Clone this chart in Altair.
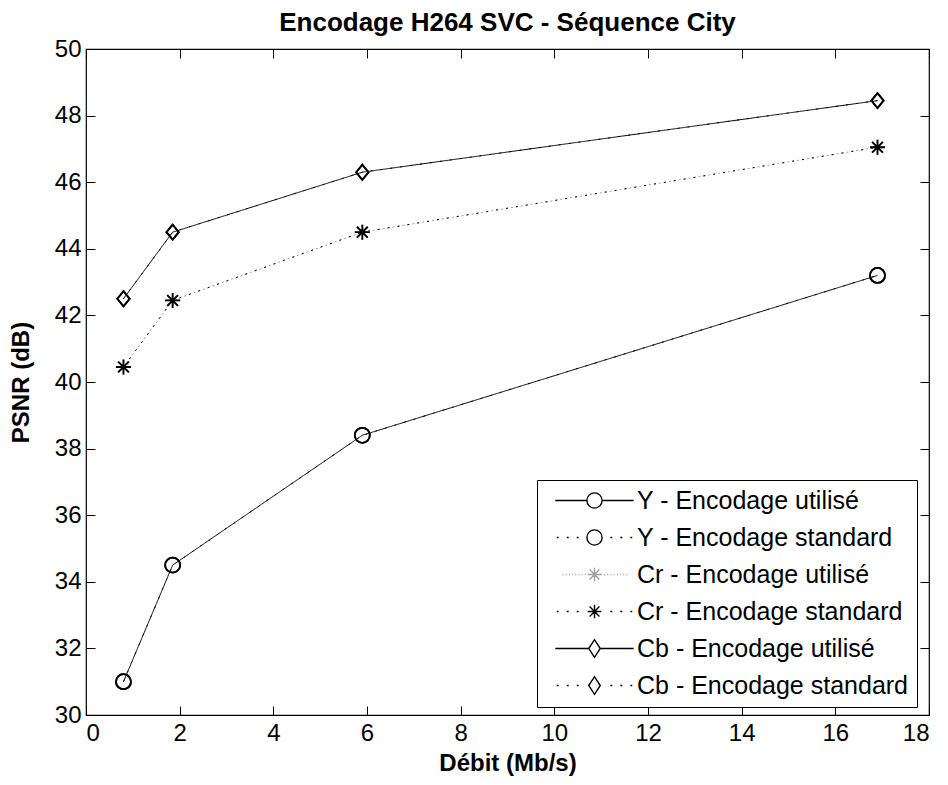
import altair as alt
import pandas as pd

# ---------------- data ----------------
debit = [0.8, 1.85, 5.9, 16.9]
psnr_y_utilise = [31.0, 34.5, 38.4, 43.2]
psnr_y_standard = [31.0, 34.5, 38.4, 43.2]
psnr_cr_utilise = [40.45, 42.45, 44.5, 47.05]
psnr_cr_standard = [40.45, 42.45, 44.5, 47.05]
psnr_cb_utilise = [42.5, 44.5, 46.3, 48.45]
psnr_cb_standard = [42.5, 44.5, 46.3, 48.45]

series_names = [
    "Y - Encodage utilisé",
    "Y - Encodage standard",
    "Cr - Encodage utilisé",
    "Cr - Encodage standard",
    "Cb - Encodage utilisé",
    "Cb - Encodage standard",
]
x_ticks = [0, 2, 4, 6, 8, 10, 12, 14, 16, 18]
y_ticks = [30, 32, 34, 36, 38, 40, 42, 44, 46, 48, 50]

all_values = [psnr_y_utilise, psnr_y_standard, psnr_cr_utilise,
              psnr_cr_standard, psnr_cb_utilise, psnr_cb_standard]
rows = []
for name, vals in zip(series_names, all_values):
    for d, v in zip(debit, vals):
        rows.append({"serie": name, "debit": d, "psnr": v})
df = pd.DataFrame(rows)

# ---------------- styles ----------------
W, H = 843, 666
FONT = "Liberation Sans"
colors = ["black", "black", "#a0a0a0", "black", "black", "black"]
dashes = [[1, 0], [2, 8], [2, 3], [2, 8], [1, 0], [2, 8]]

ASTER = "M-1,0L1,0M0,-1L0,1M-0.72,-0.72L0.72,0.72M-0.72,0.72L0.72,-0.72"
DIAM = "M-0.82,0L0,-1L0.82,0L0,1Z"
plot_shapes = ["circle", "circle", ASTER, ASTER, DIAM, DIAM]
plot_sizes = [225, 225, 196, 196, 484, 484]

# composite legend glyphs (line sample + marker), unit = 8 px
L = 4.9


def solid(gap):
    return f"M{-L},0L{-gap},0M{gap},0L{L},0"


def dotted(gap):
    out = ""
    p = -L + 0.3
    while p < -gap - 0.2:
        out += f"M{p - 0.12:.2f},0L{p + 0.12:.2f},0M{-p - 0.12:.2f},0L{-p + 0.12:.2f},0"
        p += 1.25
    return out


def fine():
    out = ""
    p = -L + 0.9
    while p < L - 0.9:
        out += f"M{p:.2f},0L{p + 0.12:.2f},0"
        p += 0.4
    return out


def circ(r):
    return f"M{r},0A{r},{r} 0 1,1 {-r},0A{r},{r} 0 1,1 {r},0Z"


def aster(s):
    a = 0.72 * s
    return (f"M{-s},0L{s},0M0,{-s}L0,{s}M{-a},{-a}L{a},{a}M{-a},{a}L{a},{-a}")


LDIAM = "M-0.72,0L0,-1.1L0.72,0L0,1.1Z"
legend_shapes = [
    solid(0.95) + circ(0.95),
    dotted(0.95) + circ(0.95),
    fine() + aster(0.85),
    dotted(0.9) + aster(0.85),
    solid(0.72) + LDIAM,
    dotted(0.72) + LDIAM,
]

legend_def = dict(
    title=None,
    orient="none",
    legendX=451,
    legendY=431,
    padding=8,
    strokeColor="black",
    fillColor="white",
    symbolSize=256,
    symbolStrokeWidth=1.4,
    symbolOpacity=1,
    symbolOffset=37,
    labelOffset=30,
    rowPadding=11,
    labelFont=FONT,
    labelFontSize=25,
    labelColor="black",
    labelLimit=500,
)

x_scale = alt.Scale(domain=[0, 18], nice=False)
y_scale = alt.Scale(domain=[30, 50], nice=False)

base = alt.Chart(df)

lines = base.mark_line(strokeWidth=1).encode(
    x=alt.X("debit:Q", scale=x_scale,
            axis=alt.Axis(orient="bottom", values=x_ticks, title="Débit (Mb/s)",
                          ticks=False, domain=False, grid=False,
                          labelFont=FONT, labelFontSize=24, labelColor="black",
                          labelPadding=6, titleFont=FONT, titleFontSize=24,
                          titleFontWeight="bold", titleColor="black", titlePadding=6)),
    y=alt.Y("psnr:Q", scale=y_scale,
            axis=alt.Axis(orient="left", values=y_ticks, title="PSNR (dB)",
                          ticks=False, domain=False, grid=False,
                          labelFont=FONT, labelFontSize=24, labelColor="black",
                          labelPadding=5, titleFont=FONT, titleFontSize=24,
                          titleFontWeight="bold", titleColor="black", titlePadding=21)),
    color=alt.Color("serie:N", scale=alt.Scale(domain=series_names, range=colors), legend=None),
    strokeDash=alt.StrokeDash("serie:N", scale=alt.Scale(domain=series_names, range=dashes), legend=None),
    order=alt.Order("debit:Q"),
)

points = base.mark_point(filled=False, strokeWidth=1.8, opacity=1).encode(
    x=alt.X("debit:Q", scale=x_scale,
            axis=alt.Axis(orient="top", offset=-H, values=x_ticks, labels=False,
                          ticks=True, tickSize=9, tickColor="black", domain=False,
                          grid=False, title=None)),
    y=alt.Y("psnr:Q", scale=y_scale,
            axis=alt.Axis(orient="right", offset=-W, values=y_ticks, labels=False,
                          ticks=True, tickSize=9, tickColor="black", domain=False,
                          grid=False, title=None)),
    color=alt.Color("serie:N", scale=alt.Scale(domain=series_names, range=colors), legend=None),
    shape=alt.Shape("serie:N", scale=alt.Scale(domain=series_names, range=plot_shapes), legend=None),
    size=alt.Size("serie:N", scale=alt.Scale(domain=series_names, range=plot_sizes), legend=None),
)

legend_layer = base.mark_point(filled=False, opacity=0).encode(
    x=alt.X("debit:Q", scale=x_scale,
            axis=alt.Axis(orient="bottom", offset=-H, values=x_ticks, labels=False,
                          ticks=True, tickSize=9, tickColor="black", domain=False,
                          grid=False, title=None)),
    y=alt.Y("psnr:Q", scale=y_scale,
            axis=alt.Axis(orient="left", offset=-W, values=y_ticks, labels=False,
                          ticks=True, tickSize=9, tickColor="black", domain=False,
                          grid=False, title=None)),
    color=alt.Color("serie:N", scale=alt.Scale(domain=series_names, range=colors),
                    legend=alt.Legend(**legend_def)),
    shape=alt.Shape("serie:N", scale=alt.Scale(domain=series_names, range=legend_shapes),
                    legend=alt.Legend(**legend_def)),
)

chart = (
    alt.layer(lines, points, legend_layer)
    .resolve_scale(shape="independent", color="independent")
    .resolve_axis(x="independent", y="independent")
    .properties(
        width=W,
        height=H,
        autosize=alt.AutoSizeParams(type="none"),
        padding={"left": 78, "top": 41, "right": 11, "bottom": 62},
        background="white",
        title=alt.TitleParams(
            text="Encodage H264 SVC - Séquence City",
            font=FONT, fontSize=26, fontWeight="bold", color="black",
            anchor="middle", offset=1,
        ),
    )
    .configure_view(stroke="black", strokeWidth=1.2)
)

chart.save("out.html", embed_options={"renderer": "svg", "actions": False})
